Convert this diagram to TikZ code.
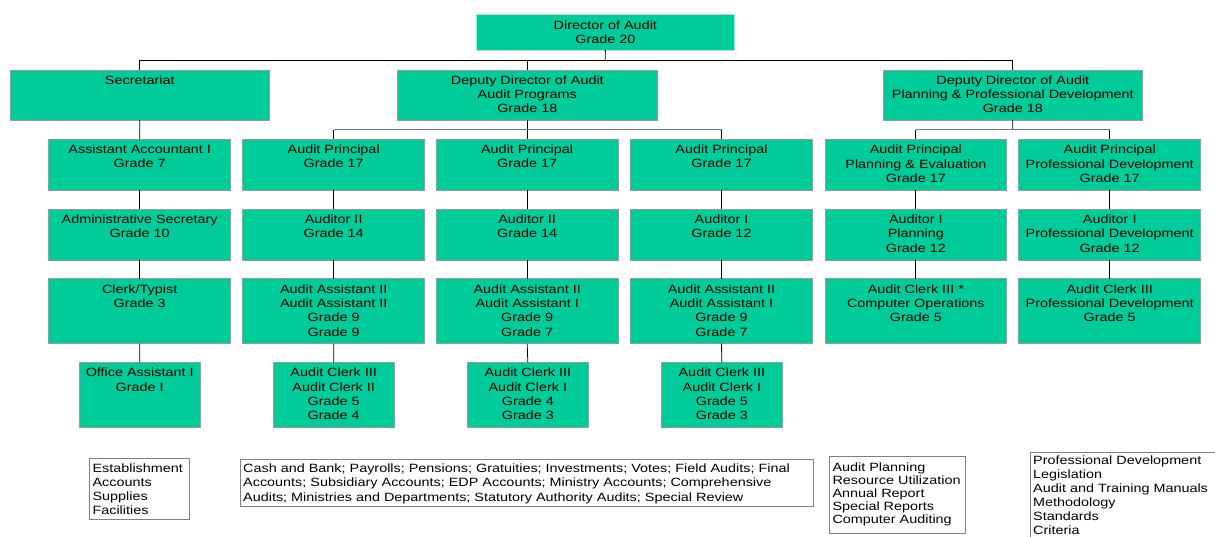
\documentclass[tikz,border=0pt]{standalone}
\usepackage{fontspec}
\setmainfont{Liberation Sans}[FakeStretch=1.2]
\definecolor{boxfill}{RGB}{0,204,153}
\definecolor{boxline}{RGB}{155,155,155}
\definecolor{dirline}{RGB}{170,232,215}
\definecolor{frameline}{RGB}{128,128,128}
\tikzset{
  orgbox/.style={draw=boxline, fill=boxfill, line width=0.9pt, inner sep=0pt, outer sep=0pt},
  orgtext/.style={font=\fontsize{12}{14.3}\selectfont, align=center, inner xsep=0pt, inner ysep=5.5pt, anchor=north},
  framebox/.style={draw=frameline, line width=0.8pt, inner sep=0pt, outer sep=0pt},
  frametext/.style={align=left, inner xsep=3pt, anchor=north west},
  conn/.style={draw=black, line width=0.8pt},
  branch/.style={draw=black!55, line width=1.4pt},
}
\newcommand\orgnode[7][]{%
  \node[orgbox, #1, minimum width={(#5-#3)*1pt}, minimum height={(#6-#4)*1pt}] (#2) at ({(#3+#5)/2},{(#4+#6)/2}) {};
  \node[orgtext] (#2-t) at (#2.north) {#7};}
\newcommand\framenode[8]{%
  \node[framebox, minimum width={(#4-#2)*1pt}, minimum height={(#5-#3)*1pt}] (#1) at ({(#2+#4)/2},{(#3+#5)/2}) {};
  \node[frametext, inner ysep=#6, font=\fontsize{12}{#7}\selectfont] (#1-t) at (#1.north west) {#8};}
\begin{document}
\begin{tikzpicture}[x=1pt, y=-1pt]
\useasboundingbox (0,0) rectangle (1215,536);
\clip (0,0) rectangle (1215,536);

% level 0
\orgnode[draw=dirline]{dir}{476.7}{14.7}{734}{50}{Director of Audit\\Grade 20}
% level 1
\orgnode{sec}{10.3}{70}{269.3}{120}{Secretariat}
\orgnode{depap}{397.3}{70}{657.3}{120}{Deputy Director of Audit\\Audit Programs\\Grade 18}
\orgnode{depppd}{883.3}{70}{1142.3}{120}{Deputy Director of Audit\\Planning \& Professional Development\\Grade 18}
% level 2
\orgnode{aa}{48.7}{139.3}{230.7}{190.3}{Assistant Accountant I\\Grade 7}
\orgnode{apa}{242.7}{139.3}{424.7}{190.3}{Audit Principal\\Grade 17}
\orgnode{apb}{436}{139.3}{618.3}{190.3}{Audit Principal\\Grade 17}
\orgnode{apc}{630.3}{139.3}{812.7}{190.3}{Audit Principal\\Grade 17}
\orgnode{appe}{825}{139.3}{1006.7}{190.3}{Audit Principal\\Planning \& Evaluation\\Grade 17}
\orgnode{appd}{1018.7}{139.3}{1200.7}{190.3}{Audit Principal\\Professional Development\\Grade 17}
% level 3
\orgnode{adm}{48.7}{209}{230.7}{260}{Administrative Secretary\\Grade 10}
\orgnode{aua}{242.7}{209}{424.7}{260}{Auditor II\\Grade 14}
\orgnode{aub}{436}{209}{618.3}{260}{Auditor II\\Grade 14}
\orgnode{auc}{630.3}{209}{812.7}{260}{Auditor I\\Grade 12}
\orgnode{aupl}{825}{209}{1006.7}{260}{Auditor I\\Planning\\Grade 12}
\orgnode{aupd}{1018.7}{209}{1200.7}{260}{Auditor I\\Professional Development\\Grade 12}
% level 4
\orgnode{clt}{48.7}{278.7}{230.7}{343.7}{Clerk/Typist\\Grade 3}
\orgnode{asa}{242.7}{278.7}{424.7}{343.7}{Audit Assistant II\\Audit Assistant II\\Grade 9\\Grade 9}
\orgnode{asb}{436}{278.7}{618.3}{343.7}{Audit Assistant II\\Audit Assistant I\\Grade 9\\Grade 7}
\orgnode{asc}{630.3}{278.7}{812.7}{343.7}{Audit Assistant II\\Audit Assistant I\\Grade 9\\Grade 7}
\orgnode{acco}{825}{278.7}{1006.7}{343.7}{Audit Clerk III *\\Computer Operations\\Grade 5}
\orgnode{acpd}{1018.7}{278.7}{1200.7}{343.7}{Audit Clerk III\\Professional Development\\Grade 5}
% level 5
\orgnode{oa}{79}{362.3}{200.3}{427.7}{Office Assistant I\\Grade I}
\orgnode{aca}{273}{362.3}{394.3}{427.7}{Audit Clerk III\\Audit Clerk II\\Grade 5\\Grade 4}
\orgnode{acb}{467}{362.3}{588.7}{427.7}{Audit Clerk III\\Audit Clerk I\\Grade 4\\Grade 3}
\orgnode{acc}{661}{362.3}{782.7}{427.7}{Audit Clerk III\\Audit Clerk I\\Grade 5\\Grade 3}

% connectors
\coordinate (j0) at (605.3,60.3);
\coordinate (j1) at (527.3,129.7);
\coordinate (j2) at (1012.7,129.7);
\draw[conn] (dir.south) -- (j0);
\draw[conn] (sec.north) -- (sec.north |- j0) -- (depppd.north |- j0) -- (depppd.north);
\draw[conn] (depap.north |- j0) -- (depap.north);

\draw[conn] (depap.south) -- (j1);
\draw[branch] (apa.north |- j1) -- (apc.north |- j1);
\draw[conn] (apa.north |- j1) -- (apa.north);
\draw[conn] (apb.north |- j1) -- (apb.north);
\draw[conn] (apc.north |- j1) -- (apc.north);

\draw[conn] (depppd.south) -- (j2);
\draw[branch] (appe.north |- j2) -- (appd.north |- j2);
\draw[conn] (appe.north |- j2) -- (appe.north);
\draw[conn] (appd.north |- j2) -- (appd.north);

\draw[conn] (sec.south) -- (aa.north);
\draw[conn] (aa.south) -- (adm.north);
\draw[conn] (adm.south) -- (clt.north);
\draw[conn] (clt.south) -- (oa.north);

\draw[conn] (apa.south) -- (aua.north);
\draw[conn] (aua.south) -- (asa.north);
\draw[conn] (asa.south) -- (aca.north);

\draw[conn] (apb.south) -- (aub.north);
\draw[conn] (aub.south) -- (asb.north);
\draw[conn] (asb.south) -- (acb.north);

\draw[conn] (apc.south) -- (auc.north);
\draw[conn] (auc.south) -- (asc.north);
\draw[conn] (asc.south) -- (acc.north);

\draw[conn] (appe.south) -- (aupl.north);
\draw[conn] (aupl.south) -- (acco.north);
\draw[conn] (appd.south) -- (aupd.north);
\draw[conn] (aupd.south) -- (acpd.north);

% bottom text boxes
\framenode{fa}{89.3}{458.3}{189.3}{519}{5.5pt}{13.9}{Establishment\\Accounts\\Supplies\\Facilities}
\framenode{fb}{240}{459.3}{813.3}{506.7}{4.5pt}{14.2}{Cash and Bank; Payrolls; Pensions; Gratuities; Investments; Votes; Field Audits; Final\\Accounts; Subsidiary Accounts; EDP Accounts; Ministry Accounts; Comprehensive\\Audits; Ministries and Departments; Statutory Authority Audits; Special Review}
\framenode{fc}{829.3}{456.7}{965}{533.3}{5.5pt}{13.1}{Audit Planning\\Resource Utilization\\Annual Report\\Special Reports\\Computer Auditing}
\framenode{fd}{1030}{452.3}{1240}{560}{3.3pt}{14.0}{Professional Development\\Legislation\\Audit and Training Manuals\\Methodology\\Standards\\Criteria}
\end{tikzpicture}
\end{document}
